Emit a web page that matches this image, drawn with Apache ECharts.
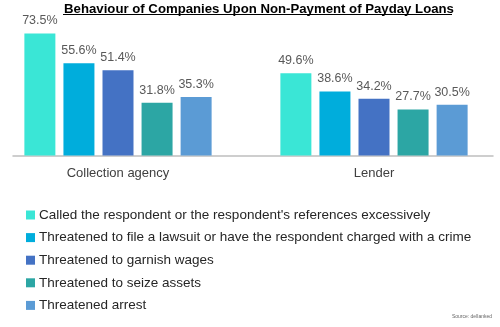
<!DOCTYPE html>
<html>
<head>
<meta charset="utf-8">
<script src="https://cdn.jsdelivr.net/npm/echarts@6/dist/echarts.min.js"></script>
<style>
  html, body { margin: 0; padding: 0; background: #fff; }
  #chart { width: 500px; height: 327px; }
</style>
</head>
<body>
<div id="chart"></div>
<script>
// Who took the action
const categories = ['Collection agency', 'Lender'];

// Behaviour reported by respondents (% of respondents)
const behaviours = [
  'Called the respondent or the respondent\'s references excessively',
  'Threatened to file a lawsuit or have the respondent charged with a crime',
  'Threatened to garnish wages',
  'Threatened to seize assets',
  'Threatened arrest'
];
const calledExcessively = [73.5, 49.6];
const threatenedLawsuit = [55.6, 38.6];
const threatenedGarnish = [51.4, 34.2];
const threatenedSeize = [31.8, 27.7];
const threatenedArrest = [35.3, 30.5];

const seriesValues = [calledExcessively, threatenedLawsuit, threatenedGarnish, threatenedSeize, threatenedArrest];
const colors = ['#3AE6D6', '#00ADDC', '#4472C4', '#2CA6A4', '#5B9BD5'];

const FONT = '"Liberation Sans", Arial, sans-serif';

const chart = echarts.init(document.getElementById('chart'), null, { renderer: 'canvas' });

const series = seriesValues.map((vals, i) => ({
  name: behaviours[i],
  type: 'bar',
  xAxisIndex: 0,
  yAxisIndex: 0,
  data: vals,
  barWidth: 31,
  barGap: '26%',
  itemStyle: { color: colors[i] },
  label: {
    show: true,
    position: 'top',
    distance: 6,
    formatter: p => p.value.toFixed(1) + '%',
    fontFamily: FONT,
    fontSize: 12.5,
    color: '#595959'
  },
  emphasis: { disabled: true },
  animation: false
}));

chart.setOption({
  animation: false,
  backgroundColor: '#ffffff',
  title: {
    text: 'Behaviour of Companies Upon Non-Payment of Payday Loans',
    left: 254,
    textAlign: 'center',
    top: -2,
    textStyle: { fontFamily: FONT, fontSize: 13.2, fontWeight: 'bold', color: '#000' }
  },
  graphic: [
    // underline for the title
    { type: 'line', shape: { x1: 63, y1: 14.5, x2: 452, y2: 14.5 }, style: { stroke: '#000', lineWidth: 1 } },
    { type: 'text', right: 8, top: 314, style: { text: 'Source: dellanked', font: '5px ' + FONT, fill: '#666' } }
  ],
  legend: {
    orient: 'vertical',
    left: 26,
    top: 207,
    padding: 0,
    itemWidth: 9,
    itemHeight: 9,
    itemGap: 6.6,
    icon: 'rect',
    selectedMode: false,
    data: behaviours,
    textStyle: { fontFamily: FONT, fontSize: 13.5, color: '#262626', padding: [0, 0, 0, -1], lineHeight: 16 }
  },
  grid: [
    { left: -10, width: 512, top: 22.7, bottom: 171.5, containLabel: false, outerBoundsMode: 'none' },
    { left: 13, width: 480, top: 22.7, bottom: 171.5, containLabel: false, outerBoundsMode: 'none' }
  ],
  xAxis: [
    {
      type: 'category',
      gridIndex: 0,
      data: categories,
      axisLine: { show: false },
      axisTick: { show: false },
      axisLabel: { fontFamily: FONT, fontSize: 13, color: '#404040', margin: 11 }
    },
    {
      type: 'category',
      gridIndex: 1,
      data: [''],
      axisLine: { show: true, lineStyle: { color: '#BFBFBF', width: 1.5 } },
      axisTick: { show: false },
      axisLabel: { show: false }
    }
  ],
  yAxis: [
    { type: 'value', gridIndex: 0, min: 0, max: 80, show: false, splitLine: { show: false } },
    { type: 'value', gridIndex: 1, min: 0, max: 80, show: false, splitLine: { show: false } }
  ],
  series: series
});
</script>
</body>
</html>
